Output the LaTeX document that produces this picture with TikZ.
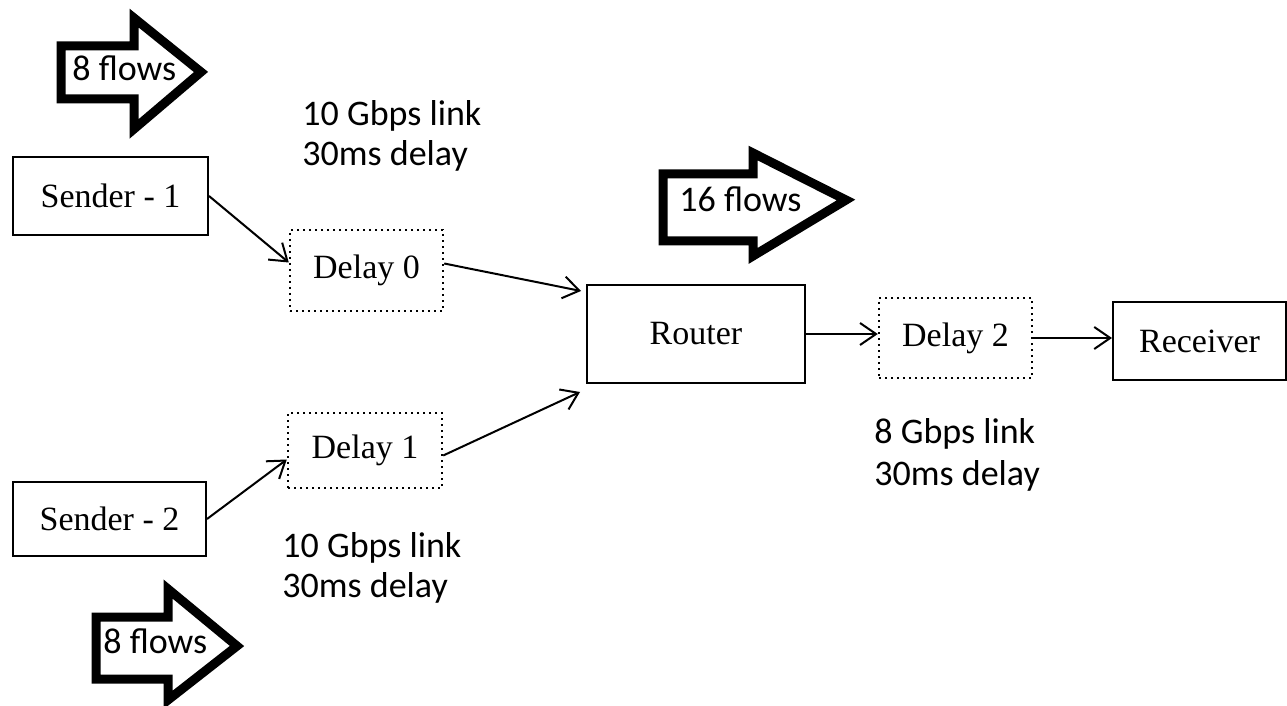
\documentclass[tikz,border=0pt]{standalone}
\usepackage{fontspec}
\setmainfont{Liberation Serif}
\newfontfamily\calibfont{Carlito}
\usetikzlibrary{arrows.meta}

\tikzset{
  box/.style={draw, line width=1pt, inner sep=0pt, font=\fontsize{17}{20}\selectfont},
  delaybox/.style={box, dotted, line width=1.2pt},
  link/.style={line width=1pt, -{Straight Barb[length=8pt,width=11pt]}},
  fatarrow/.style={line width=4.5pt, line join=miter},
  lbl/.style={anchor=base west, inner sep=0pt, font=\calibfont\fontsize{18}{22}\selectfont}
}

\begin{document}
\begin{tikzpicture}[x=0.5pt, y=-0.5pt]
	\useasboundingbox (0,0) rectangle (1287,706);

	% Draw the senders, the delays, the router and the receiver
	\node[box, minimum width=97.5pt, minimum height=39pt] (s1) at (110.5,196) {Sender - 1};
	\node[box, minimum width=96.5pt, minimum height=37pt] (s2) at (109.5,519) {Sender - 2};
	\node[delaybox, minimum width=76.5pt, minimum height=40.5pt] (d0) at (366.5,270.5) {Delay 0};
	\node[delaybox, minimum width=77pt, minimum height=37.5pt] (d1) at (365,450.5) {Delay 1};
	\node[box, minimum width=109pt, minimum height=49pt] (r) at (696,334) {Router};
	\node[delaybox, minimum width=76.5pt, minimum height=40pt] (d2) at (955.5,338) {Delay 2};
	\node[box, minimum width=86.5pt, minimum height=39pt] (rx) at (1199.5,341) {Receiver};

	% Then the links between them
	\draw[link] (s1.east) -- ([yshift=4pt]d0.west);
	\draw[link] (s2.east) -- ([yshift=-4.5pt]d1.west);
	\draw[link] ([yshift=3.5pt]d0.east) -- ([xshift=-2.5pt,yshift=-3.5pt]r.north west);
	\draw[link] ([yshift=-2.5pt]d1.east) -- ([xshift=-3pt,yshift=-4pt]r.south west);
	\draw[link] (r.east) -- (r.east -| d2.west);
	\draw[link] (d2.east) -- (d2.east -| rx.west);

	% Now add the link labels
	\node[lbl] (l0a) at (302,126) {10 Gbps link};
	\node[lbl] (l0b) at (302,166) {30ms delay};
	\node[lbl] (l1a) at (282,557) {10 Gbps link};
	\node[lbl] (l1b) at (282,597) {30ms delay};
	\node[lbl] (l2a) at (874,443) {8 Gbps link};
	\node[lbl] (l2b) at (874,485) {30ms delay};

	% Finally the fat flow arrows
	\draw[fatarrow] (61,46) -- (134,46) -- (134,18) -- (201,72) -- (134,129) -- (134,99) -- (61,99) -- cycle;
	\node[lbl] (f1) at (72,81) {8 flows};
	\draw[fatarrow] (663,174) -- (753,174) -- (753,153) -- (846,200) -- (753,256) -- (753,241) -- (663,241) -- cycle;
	\node[lbl] (f2) at (679,212) {16 flows};
	\draw[fatarrow] (96,617) -- (168,617) -- (168,589) -- (237,646) -- (168,700) -- (168,679) -- (96,679) -- cycle;
	\node[lbl] (f3) at (103,653) {8 flows};
\end{tikzpicture}
\end{document}
